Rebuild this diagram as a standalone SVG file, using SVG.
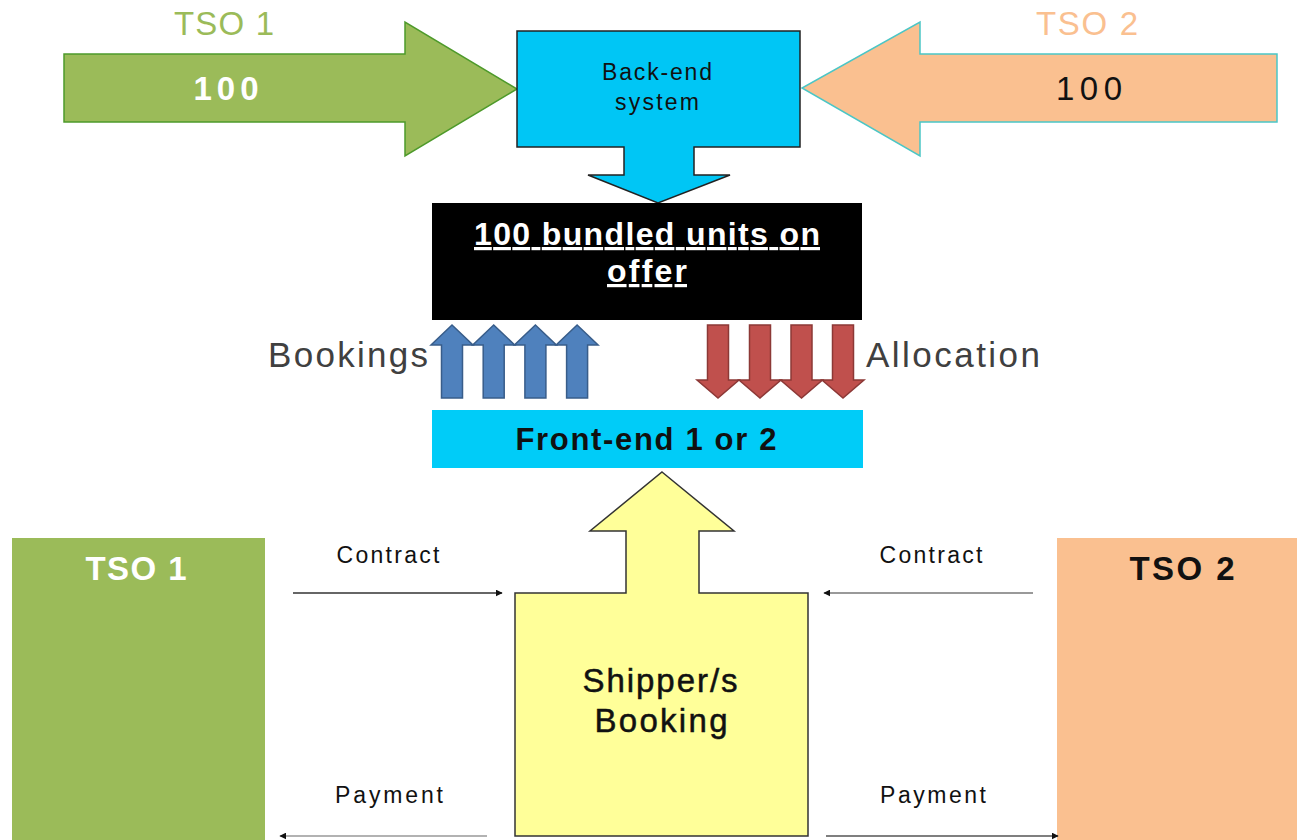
<svg xmlns="http://www.w3.org/2000/svg" width="1297" height="840" viewBox="0 0 1297 840">
<style>
text{font-family:"Liberation Sans","DejaVu Sans",sans-serif;text-anchor:middle}
.lbl{font-size:23px;fill:#111}
.big{font-size:33px}
.bold{font-weight:bold}
.blue{fill:#4f81bd;stroke:#385d8a;stroke-width:1.5}
.red{fill:#c0504d;stroke:#8c3836;stroke-width:1.5}
.conn{fill:none;stroke-width:1.5}
</style>
<defs>
<marker id="ah" viewBox="0 0 10 10" refX="9" refY="5" markerWidth="7" markerHeight="7" orient="auto" markerUnits="userSpaceOnUse">
<path d="M0,0 L10,5 L0,10 z" fill="#111"/>
</marker>
</defs>
<rect width="1297" height="840" fill="#fff"/>

<g id="tso1-arrow">
<path d="M64,54 H405 V22 L517,89 L405,156 V122 H64 z" fill="#9bbb59" stroke="#4e9a2b" stroke-width="1.5"/>
<text x="224" y="35" class="big" fill="#9bbb59" textLength="100" lengthAdjust="spacing">TSO 1</text>
<text x="226" y="100" font-size="33" class="bold" fill="#fff" textLength="65" lengthAdjust="spacing">100</text>
</g>

<g id="tso2-arrow">
<path d="M1277,54 H920 V22 L802,88 L920,156 V122 H1277 z" fill="#fac090" stroke="#4bc6c6" stroke-width="1.5"/>
<text x="1087" y="35" class="big" fill="#fac090" textLength="102" lengthAdjust="spacing">TSO 2</text>
<text x="1089" y="100" font-size="33" fill="#111" textLength="66" lengthAdjust="spacing">100</text>
</g>

<g id="backend">
<path d="M517,31 H800 V147 H694 V175 H730 L658,203 L588,175 H624 V147 H517 z" fill="#00c6f5" stroke="#222" stroke-width="1.5"/>
<text x="657" y="80" font-size="23" fill="#111" textLength="110" lengthAdjust="spacing">Back-end</text>
<text x="657" y="110" font-size="23" fill="#111" textLength="84" lengthAdjust="spacing">system</text>
</g>

<g id="offer">
<rect x="432" y="203" width="430" height="117" fill="#000"/>
<text x="647" y="245" class="bold" font-size="32" fill="#fff" text-decoration="underline" textLength="346" lengthAdjust="spacing">100 bundled units on</text>
<text x="647" y="282" class="bold" font-size="32" fill="#fff" text-decoration="underline" textLength="80" lengthAdjust="spacing">offer</text>
</g>

<g id="bookings">
<path class="blue" d="M452,325 L473,345 H462.5 V398 H441.5 V345 H431 z"/>
<path class="blue" d="M493.7,325 L514.7,345 H504.2 V398 H483.2 V345 H472.7 z"/>
<path class="blue" d="M535.4,325 L556.4,345 H545.9 V398 H524.9 V345 H514.4 z"/>
<path class="blue" d="M577.1,325 L598.1,345 H587.6 V398 H566.6 V345 H556.1 z"/>
<text x="348" y="367" font-size="35" fill="#404040" textLength="160" lengthAdjust="spacing">Bookings</text>
</g>

<g id="allocation">
<path class="red" d="M707.5,325 H728.5 V380 H739 L718,398 L697,380 H707.5 z"/>
<path class="red" d="M749.5,325 H770.5 V380 H781 L760,398 L739,380 H749.5 z"/>
<path class="red" d="M791,325 H812 V380 H822.5 L801.5,398 L780.5,380 H791 z"/>
<path class="red" d="M832.5,325 H853.5 V380 H864 L843,398 L822,380 H832.5 z"/>
<text x="953" y="367" font-size="35" fill="#404040" textLength="174" lengthAdjust="spacing">Allocation</text>
</g>

<g id="frontend">
<rect x="432" y="410" width="431" height="58" fill="#00ccf8"/>
<text x="646" y="450" class="bold" font-size="31" fill="#111" textLength="261" lengthAdjust="spacing">Front-end 1 or 2</text>
</g>

<g id="shipper">
<path d="M662,472 L734,531 H699 V593 H808 V836 H515 V593 H626 V531 H590 z" fill="#ffff99" stroke="#333" stroke-width="1.5"/>
<text x="660" y="692" font-size="33" fill="#111" stroke="#111" stroke-width="0.5" textLength="155" lengthAdjust="spacing">Shipper/s</text>
<text x="661" y="732" font-size="33" fill="#111" stroke="#111" stroke-width="0.5" textLength="133" lengthAdjust="spacing">Booking</text>
</g>

<g id="tso1-box">
<rect x="12" y="538" width="253" height="302" fill="#9bbb59"/>
<text x="136" y="580" class="big bold" fill="#fff" textLength="101" lengthAdjust="spacing">TSO 1</text>
</g>

<g id="tso2-box">
<rect x="1057" y="538" width="240" height="302" fill="#fac090"/>
<text x="1182" y="580" class="big bold" fill="#111" textLength="105" lengthAdjust="spacing">TSO 2</text>
</g>

<g id="connectors">
<line class="conn" x1="293" y1="593" x2="502" y2="593" stroke="#333" marker-end="url(#ah)"/>
<line class="conn" x1="1033" y1="593" x2="824" y2="593" stroke="#777" marker-end="url(#ah)"/>
<line class="conn" x1="487" y1="836" x2="280" y2="836" stroke="#999" marker-end="url(#ah)"/>
<line class="conn" x1="826" y1="836" x2="1058" y2="836" stroke="#555" marker-end="url(#ah)"/>
<text x="388" y="563" class="lbl" textLength="103" lengthAdjust="spacing">Contract</text>
<text x="931" y="563" class="lbl" textLength="103" lengthAdjust="spacing">Contract</text>
<text x="389" y="803" class="lbl" textLength="108" lengthAdjust="spacing">Payment</text>
<text x="933" y="803" class="lbl" textLength="106" lengthAdjust="spacing">Payment</text>
</g>
</svg>
